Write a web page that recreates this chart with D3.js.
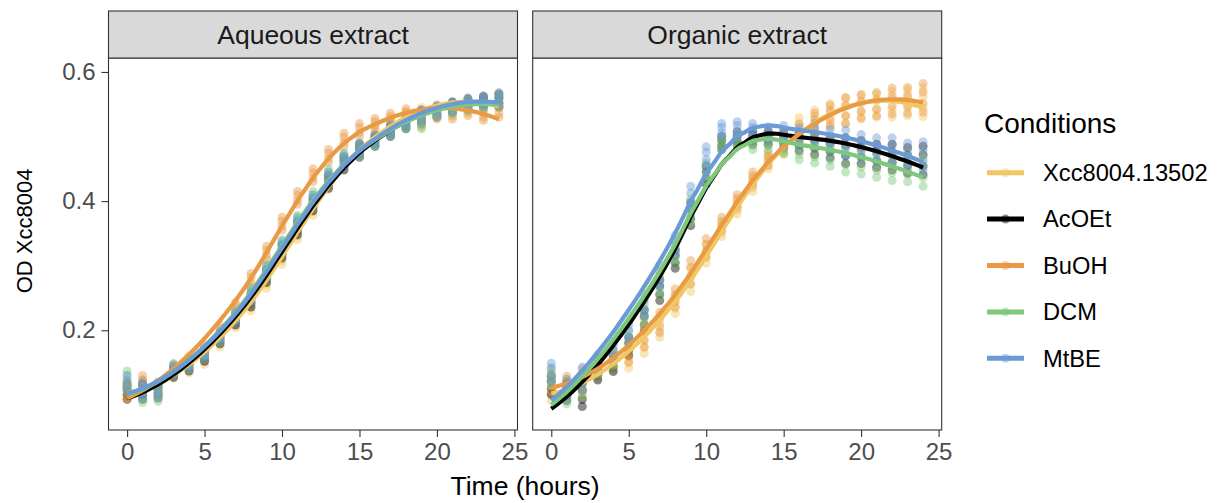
<!DOCTYPE html>
<html>
<head>
<meta charset="utf-8">
<script src="https://cdn.jsdelivr.net/npm/d3@7"></script>
<style>
body { margin: 0; background: #fff; }
svg { font-family: "Liberation Sans", Arial, Helvetica, sans-serif; }
</style>
</head>
<body>
<svg id="chart" width="1219" height="503"></svg>
<script>
// growth curves
const hours = [0,1,2,3,4,5,6,7,8,9,10,11,12,13,14,15,16,17,18,19,20,21,22,23,24];
const conditions = ['Xcc8004.13502', 'AcOEt', 'BuOH', 'DCM', 'MtBE'];
const colors = ['#F0C761', '#000000', '#E99A45', '#7DC87A', '#6B9BD6'];
const panels = ['Aqueous extract', 'Organic extract'];

// Aqueous extract
const aqXcc   = [0.110,0.112,0.110,0.134,0.142,0.155,0.182,0.212,0.240,0.275,0.312,0.350,0.388,0.428,0.460,0.480,0.500,0.520,0.530,0.535,0.542,0.546,0.550,0.552,0.555];
const aqAcOEt = [0.105,0.105,0.105,0.135,0.145,0.160,0.187,0.216,0.246,0.284,0.322,0.358,0.395,0.430,0.458,0.478,0.493,0.508,0.520,0.530,0.538,0.545,0.550,0.554,0.556];
const aqBuOH  = [0.105,0.118,0.110,0.140,0.152,0.170,0.200,0.235,0.278,0.320,0.365,0.405,0.440,0.470,0.495,0.510,0.520,0.528,0.535,0.525,0.535,0.535,0.540,0.533,0.540];
const aqDCM   = [0.125,0.100,0.100,0.140,0.148,0.165,0.190,0.222,0.255,0.292,0.330,0.368,0.405,0.440,0.465,0.478,0.492,0.508,0.520,0.522,0.538,0.543,0.548,0.550,0.556];
const aqMtBE  = [0.118,0.108,0.108,0.138,0.148,0.163,0.190,0.220,0.252,0.290,0.328,0.365,0.400,0.435,0.462,0.480,0.495,0.510,0.522,0.532,0.540,0.546,0.552,0.555,0.558];
const aqSpread = [0.012,0.012,0.010,0.008,0.008,0.008,0.008,0.008,0.010,0.010,0.010,0.010,0.010,0.010,0.010,0.010,0.008,0.008,0.008,0.010,0.008,0.008,0.008,0.008,0.010];

// Organic extract
const orXcc   = [0.105,0.110,0.115,0.138,0.150,0.155,0.180,0.205,0.240,0.278,0.318,0.355,0.390,0.425,0.460,0.485,0.515,0.525,0.535,0.540,0.545,0.548,0.550,0.552,0.553];
const orAcOEt = [0.115,0.105,0.100,0.135,0.148,0.175,0.215,0.262,0.310,0.380,0.440,0.490,0.497,0.498,0.498,0.495,0.492,0.488,0.483,0.478,0.476,0.470,0.468,0.463,0.463];
const orBuOH  = [0.120,0.115,0.122,0.145,0.158,0.165,0.190,0.212,0.250,0.290,0.328,0.365,0.400,0.435,0.465,0.488,0.505,0.520,0.532,0.540,0.547,0.550,0.555,0.556,0.560];
const orDCM   = [0.128,0.100,0.115,0.142,0.155,0.185,0.225,0.270,0.318,0.385,0.445,0.490,0.495,0.490,0.490,0.485,0.478,0.475,0.470,0.465,0.460,0.455,0.452,0.450,0.445];
const orMtBE  = [0.135,0.110,0.125,0.150,0.165,0.195,0.240,0.285,0.333,0.405,0.470,0.510,0.513,0.510,0.505,0.505,0.500,0.505,0.495,0.490,0.485,0.480,0.478,0.470,0.470];
const orSpread = [0.014,0.014,0.018,0.012,0.012,0.014,0.016,0.016,0.014,0.018,0.014,0.010,0.010,0.010,0.010,0.012,0.014,0.016,0.016,0.020,0.018,0.018,0.020,0.020,0.022];

const replicateSteps = [-1, -0.4, 0.4, 1];
const xTicks = [0, 5, 10, 15, 20, 25];
const yTicks = [0.2, 0.4, 0.6];

const panelSeries = [
  [aqXcc, aqAcOEt, aqBuOH, aqDCM, aqMtBE],
  [orXcc, orAcOEt, orBuOH, orDCM, orMtBE]
];
const panelSpread = [aqSpread, orSpread];

// loess (degree 2, tricube) like geom_smooth
function loess(xs, ys, span, xout) {
  const n = xs.length;
  const q = Math.floor(n * span);
  return xout.map(function(x0) {
    const d = xs.map(x => Math.abs(x - x0));
    const h = d.slice().sort((a, b) => a - b)[q - 1];
    let s0 = 0, s1 = 0, s2 = 0, s3 = 0, s4 = 0, t0 = 0, t1 = 0, t2 = 0;
    for (let i = 0; i < n; i++) {
      if (d[i] >= h) continue;
      const r = d[i] / h;
      const w = Math.pow(1 - r * r * r, 3);
      const u = xs[i] - x0, y = ys[i];
      s0 += w; s1 += w * u; s2 += w * u * u; s3 += w * u * u * u; s4 += w * u * u * u * u;
      t0 += w * y; t1 += w * u * y; t2 += w * u * u * y;
    }
    const det = s0 * (s2 * s4 - s3 * s3) - s1 * (s1 * s4 - s3 * s2) + s2 * (s1 * s3 - s2 * s2);
    const det0 = t0 * (s2 * s4 - s3 * s3) - s1 * (t1 * s4 - s3 * t2) + s2 * (t1 * s3 - s2 * t2);
    return [x0, det0 / det];
  });
}

const svg = d3.select('#chart');
svg.append('rect').attr('width', 1219).attr('height', 503).attr('fill', '#fff');

const panelLeft = [108.5, 532.7];
const panelW = 409;
const panelTop = 58, panelBottom = 430;
const stripTop = 11;

const y = d3.scaleLinear().domain([0.0456, 0.6216]).range([panelBottom, panelTop]);
const xGrid = d3.range(80).map(i => 24 * i / 79);

panels.forEach(function(name, pi) {
  const x = d3.scaleLinear().domain([-1.2, 25.2]).range([panelLeft[pi], panelLeft[pi] + panelW]);
  const g = svg.append('g');

  g.append('clipPath').attr('id', 'clip' + pi)
    .append('rect')
    .attr('x', panelLeft[pi]).attr('y', panelTop)
    .attr('width', panelW).attr('height', panelBottom - panelTop);

  const plot = g.append('g').attr('clip-path', 'url(#clip' + pi + ')');

  // points
  conditions.forEach(function(c, ci) {
    const vals = panelSeries[pi][ci];
    const pts = [];
    hours.forEach(function(h, hi) {
      replicateSteps.forEach(function(k) {
        pts.push([h, vals[hi] + k * panelSpread[pi][hi]]);
      });
    });
    plot.selectAll(null).data(pts).enter().append('circle')
      .attr('cx', d => x(d[0]))
      .attr('cy', d => y(d[1]))
      .attr('r', 4.5)
      .attr('fill', colors[ci])
      .attr('fill-opacity', 0.45);
  });

  // smooth lines
  conditions.forEach(function(c, ci) {
    const vals = panelSeries[pi][ci];
    const xs = [], ys = [];
    hours.forEach(function(h, hi) {
      replicateSteps.forEach(function(k) {
        xs.push(h);
        ys.push(vals[hi] + k * panelSpread[pi][hi]);
      });
    });
    const fit = loess(xs, ys, 0.75, xGrid);
    plot.append('path')
      .datum(fit)
      .attr('d', d3.line().x(d => x(d[0])).y(d => y(d[1])))
      .attr('fill', 'none')
      .attr('stroke', colors[ci])
      .attr('stroke-width', 4.2);
  });

  // panel border
  g.append('rect')
    .attr('x', panelLeft[pi]).attr('y', panelTop)
    .attr('width', panelW).attr('height', panelBottom - panelTop)
    .attr('fill', 'none').attr('stroke', '#333').attr('stroke-width', 1.1);

  // strip
  g.append('rect')
    .attr('x', panelLeft[pi]).attr('y', stripTop)
    .attr('width', panelW).attr('height', panelTop - stripTop)
    .attr('fill', '#D9D9D9').attr('stroke', '#333').attr('stroke-width', 1.1);
  g.append('text')
    .attr('x', panelLeft[pi] + panelW / 2).attr('y', (stripTop + panelTop) / 2)
    .attr('text-anchor', 'middle').attr('dy', '0.35em')
    .attr('font-size', 26.5).attr('fill', '#1A1A1A')
    .text(name);

  // x axis
  const xAxis = g.append('g')
    .attr('transform', 'translate(0,' + panelBottom + ')')
    .call(d3.axisBottom(x).tickValues(xTicks).tickSize(7).tickPadding(6).tickFormat(d3.format('d')));
  xAxis.select('.domain').remove();
  xAxis.selectAll('line').attr('stroke', '#333').attr('stroke-width', 1.1);
  xAxis.selectAll('text').attr('font-size', 24).attr('fill', '#4D4D4D').attr('font-family', null);

  if (pi === 0) {
    const yAxis = g.append('g')
      .attr('transform', 'translate(' + panelLeft[0] + ',0)')
      .call(d3.axisLeft(y).tickValues(yTicks).tickSize(7).tickPadding(6).tickFormat(d3.format('.1f')));
    yAxis.select('.domain').remove();
    yAxis.selectAll('line').attr('stroke', '#333').attr('stroke-width', 1.1);
    yAxis.selectAll('text').attr('font-size', 24).attr('fill', '#4D4D4D').attr('font-family', null);
  }
});

// axis titles
svg.append('text')
  .attr('x', (panelLeft[0] + panelLeft[1] + panelW) / 2).attr('y', 495)
  .attr('text-anchor', 'middle').attr('font-size', 26.5).attr('fill', '#000')
  .text('Time (hours)');
svg.append('text')
  .attr('transform', 'translate(32,231) rotate(-90)')
  .attr('text-anchor', 'middle').attr('font-size', 22).attr('fill', '#000')
  .text('OD Xcc8004');

// legend
const legend = svg.append('g');
legend.append('text')
  .attr('x', 984).attr('y', 133)
  .attr('font-size', 28).attr('fill', '#000')
  .text('Conditions');
conditions.forEach(function(c, ci) {
  const ly = 172.7 + ci * 46.4;
  legend.append('line')
    .attr('x1', 987).attr('x2', 1024).attr('y1', ly).attr('y2', ly)
    .attr('stroke', colors[ci]).attr('stroke-width', 5);
  legend.append('circle')
    .attr('cx', 1005.5).attr('cy', ly).attr('r', 4.5)
    .attr('fill', colors[ci]).attr('fill-opacity', 0.45);
  legend.append('text')
    .attr('x', 1043).attr('y', ly).attr('dy', '0.35em')
    .attr('font-size', 23.7).attr('fill', '#000')
    .text(c);
});
</script>
</body>
</html>
